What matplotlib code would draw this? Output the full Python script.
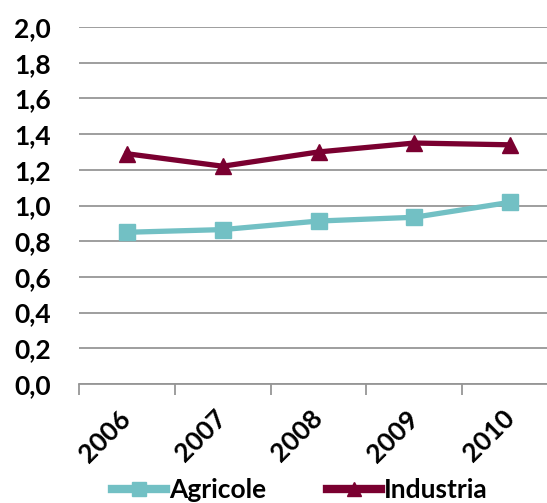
import numpy as np
import matplotlib
matplotlib.use("Agg")
import matplotlib.pyplot as plt
from matplotlib.ticker import FixedLocator, FuncFormatter

# data
years = ["2006", "2007", "2008", "2009", "2010"]
agricole = [0.85, 0.865, 0.913, 0.934, 1.018]
industria = [1.29, 1.22, 1.30, 1.35, 1.34]
yticks = [0.0, 0.2, 0.4, 0.6, 0.8, 1.0, 1.2, 1.4, 1.6, 1.8, 2.0]

teal = "#72C0C4"
maroon = "#7A0030"
grid_col = "#969696"

plt.rcParams['font.family'] = ['Lato', 'DejaVu Sans']
plt.rcParams['font.weight'] = 'bold'
FS = 19

fig = plt.figure(figsize=(5.47, 5.03), dpi=100)
ax = fig.add_axes([79 / 547, 1 - 384 / 503, 479 / 547, 357 / 503])

x = np.arange(len(years))
ax.plot(x, agricole, color=teal, lw=3.8, marker='s', ms=11, label="Agricole",
        solid_joinstyle='round')
ax.plot(x, industria, color=maroon, lw=3.8, marker='^', ms=11, label="Industria",
        solid_joinstyle='round')

ax.set_xlim(-0.5, len(years) - 0.5)
ax.set_ylim(0, 2.0)

# gridlines
ax.set_yticks(yticks)
ax.yaxis.set_major_formatter(FuncFormatter(lambda v, p: f"{v:.1f}".replace('.', ',')))
ax.grid(axis='y', color=grid_col, lw=1.3)
ax.set_axisbelow(True)
ax.tick_params(axis='y', length=0, pad=20, labelsize=FS)

# x ticks: marks at category boundaries, labels at centres
ax.set_xticks(x)
ax.set_xticklabels(years, rotation=45, ha='right', va='center', rotation_mode='anchor',
                   fontsize=FS)
ax.tick_params(axis='x', which='major', length=0, pad=22)
ax.xaxis.set_minor_locator(FixedLocator(np.arange(-0.5, len(years), 1.0)))
ax.tick_params(axis='x', which='minor', length=8, width=1.3, color=grid_col, direction='out')

for s in ['left', 'right', 'top']:
    ax.spines[s].set_visible(False)
ax.spines['bottom'].set_color(grid_col)
ax.spines['bottom'].set_linewidth(1.3)

leg = fig.legend(loc='center', bbox_to_anchor=(0.548, 0.026), ncol=2, frameon=False,
                 fontsize=FS, handlelength=2.05, columnspacing=2.3, handletextpad=0.1)
for h in leg.legend_handles:
    h.set_linewidth(6)
    h.set_markersize(10)

fig.savefig("out.png", dpi=100)
